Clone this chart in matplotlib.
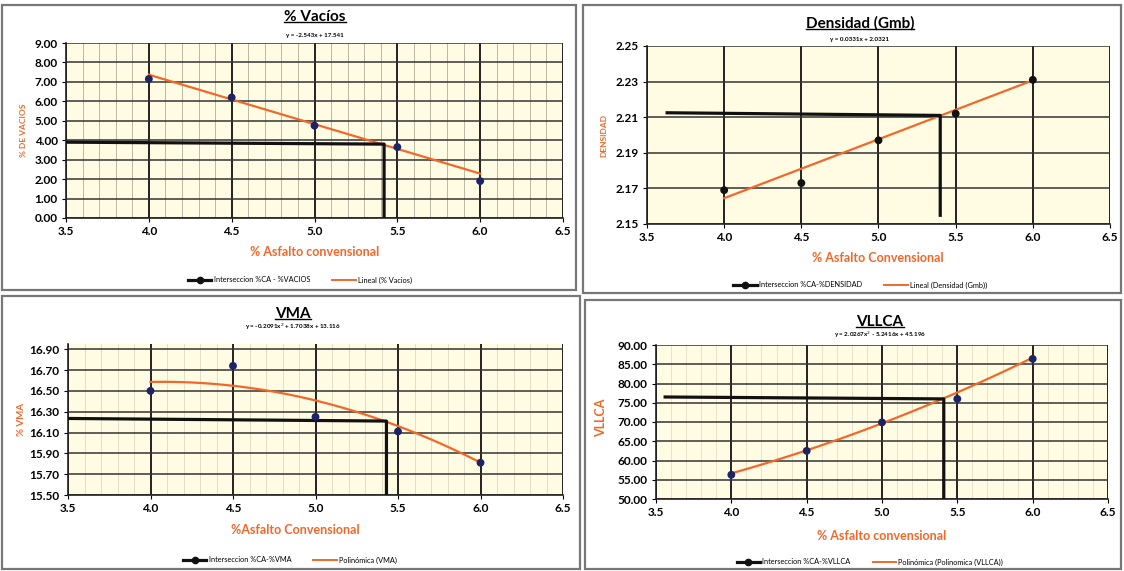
import matplotlib
matplotlib.use("Agg")
import matplotlib.pyplot as plt
import numpy as np
from matplotlib.lines import Line2D
from matplotlib.patches import Rectangle
from matplotlib.ticker import MultipleLocator, FormatStrFormatter

plt.rcParams['font.family'] = ['Lato', 'DejaVu Sans']

# datos
asfalto = [4.0, 4.5, 5.0, 5.5, 6.0]
vacios = [7.15, 6.20, 4.75, 3.65, 1.90]
densidad = [2.169, 2.173, 2.197, 2.212, 2.231]
vma = [16.50, 16.74, 16.25, 16.11, 15.81]
vllca = [56.3, 62.5, 69.9, 76.0, 86.4]

# coeficientes de las lineas de tendencia (ecuaciones del grafico)
coef_vacios = [-2.543, 17.541]
coef_densidad = [0.0331, 2.0321]
coef_vma = [-0.2091, 1.7038, 13.116]
coef_vllca = [2.0267, -5.2416, 45.196]

# lineas de interseccion
int_vacios_x = [3.5, 5.42, 5.42]
int_vacios_y = [3.90, 3.80, 0.0]
int_dens_x = [3.62, 5.40, 5.40]
int_dens_y = [2.2125, 2.211, 2.154]
int_vma_x = [3.5, 5.43, 5.43]
int_vma_y = [16.235, 16.21, 15.5]
int_vllca_x = [3.55, 5.41, 5.41]
int_vllca_y = [76.5, 76.0, 50.0]

# marcas del eje y
yt_vacios = [0, 1, 2, 3, 4, 5, 6, 7, 8, 9]
yt_dens = [2.15, 2.17, 2.19, 2.21, 2.23, 2.25]
yt_vma = [15.50, 15.70, 15.90, 16.10, 16.30, 16.50, 16.70, 16.90]
yt_vllca = [50, 55, 60, 65, 70, 75, 80, 85, 90]

W, H = 1124, 571
fig = plt.figure(figsize=(W / 100, H / 100), dpi=100)
ORANGE = '#F0682A'
NAVY = '#1B2466'
BG = '#FFFCE3'


def fx(x):
    return x / W


def fy(y):
    return 1 - y / H


# marcos de cada grafico
for x0, y0, x1, y1 in [(2, 5, 576, 290), (583, 5, 1121, 293), (2, 296, 580, 569), (585, 300, 1121, 569)]:
    fig.patches.append(Rectangle((fx(x0), fy(y1)), fx(x1 - x0), (y1 - y0) / H, transform=fig.transFigure,
                                 fill=False, edgecolor='#777777', lw=1.6))

titles = []


def panel(px, ylim, yticks, ydata, coef, ix, iy, pcolor, title, eq, ylabel, ylsize, xlabel,
          tpos, epos, xlpos, ylpos, legpos, lab1, lab2, minor_x, minor_alpha):
    x0, y0, x1, y1 = px
    ax = fig.add_axes([fx(x0), fy(y1), fx(x1 - x0), (y1 - y0) / H])
    ax.set_facecolor(BG)
    ax.set_xlim(3.5, 6.5)
    ax.set_ylim(*ylim)
    ax.xaxis.set_major_locator(MultipleLocator(0.5))
    ax.set_yticks(yticks)
    ax.xaxis.set_major_formatter(FormatStrFormatter('%.1f'))
    ax.yaxis.set_major_formatter(FormatStrFormatter('%.2f'))
    if minor_x:
        ax.xaxis.set_minor_locator(MultipleLocator(0.1))
        ax.grid(True, which='minor', axis='x', color='#9a9a8a', lw=0.6, alpha=minor_alpha)
    ax.grid(True, which='major', axis='x', color='#111111', lw=1.3)
    ax.grid(True, which='major', axis='y', color='#333333', lw=1.1)
    ax.set_axisbelow(True)
    ax.tick_params(which='minor', length=0)
    ax.tick_params(which='major', length=3, labelsize=8.5, pad=3)
    for lbl in ax.get_xticklabels() + ax.get_yticklabels():
        lbl.set_fontweight('bold')
    for s in ['top', 'right']:
        ax.spines[s].set_visible(False)
    for s in ['left', 'bottom']:
        ax.spines[s].set_color('#222222')
        ax.spines[s].set_linewidth(1.2)

    xt = np.linspace(4.0, 6.0, 60)
    ax.plot(xt, np.polyval(coef, xt), color=ORANGE, lw=1.6, zorder=3)
    ax.plot(ix, iy, color='#111111', lw=2.3, zorder=4, solid_capstyle='butt')
    ax.scatter(asfalto, ydata, s=32, color=pcolor, zorder=5, edgecolor='none')

    t = fig.text(fx(tpos[0]), fy(tpos[1]), title, ha='center', va='center', fontsize=11, fontweight='bold')
    titles.append(t)
    fig.text(fx(epos[0]), fy(epos[1]), eq, ha='center', va='center', fontsize=4.5, fontweight='bold')
    fig.text(fx(xlpos[0]), fy(xlpos[1]), xlabel, ha='center', va='center', fontsize=9,
             fontweight='bold', color=ORANGE)
    fig.text(fx(ylpos[0]), fy(ylpos[1]), ylabel, ha='center', va='center', fontsize=ylsize,
             fontweight='bold', color=ORANGE, rotation=90)

    handles = [Line2D([], [], color='#111111', lw=2.3, marker='o', markersize=4.5),
               Line2D([], [], color=ORANGE, lw=1.4)]
    fig.legend(handles, [lab1, lab2], loc='center', bbox_to_anchor=(fx(legpos[0]), fy(legpos[1])),
               ncol=2, frameon=False, fontsize=5.3, handlelength=3.2, columnspacing=3.0, handletextpad=0.3)
    return ax


panel((66, 43, 563, 218), (0, 9), yt_vacios, vacios, coef_vacios, int_vacios_x, int_vacios_y, NAVY,
      '% Vacíos', 'y = -2.543x + 17.541', '% DE VACIOS', 6, '% Asfalto convensional',
      (315, 17), (315, 36), (315, 252), (24, 130), (300, 280),
      'Interseccion %CA - %VACIOS', 'Lineal (% Vacios)', True, 0.8)

panel((647, 46, 1110, 224), (2.15, 2.25), yt_dens, densidad, coef_densidad, int_dens_x, int_dens_y, '#111111',
      'Densidad (Gmb)', 'y = 0.0331x + 2.0321', 'DENSIDAD', 6, '% Asfalto Convensional',
      (860, 23), (860, 39), (878, 258), (604, 135), (860, 285),
      'Interseccion %CA-%DENSIDAD', 'Lineal (Densidad (Gmb))', False, 0.0)

panel((68, 344, 563, 495), (15.5, 16.95), yt_vma, vma, coef_vma, int_vma_x, int_vma_y, NAVY,
      'VMA', 'y = -0.2091x$^2$ + 1.7038x + 13.116', '% VMA', 7, '%Asfalto Convensional',
      (293, 314), (293, 327), (295, 530), (22, 420), (290, 560),
      'Interseccion %CA-%VMA', 'Polinómica (VMA)', True, 0.35)

panel((656, 345, 1108, 499), (50, 90), yt_vllca, vllca, coef_vllca, int_vllca_x, int_vllca_y, NAVY,
      'VLLCA', 'y = 2.0267x$^2$ - 5.2416x + 45.196', 'VLLCA', 9, '% Asfalto convensional',
      (880, 322), (880, 335), (882, 536), (601, 418), (870, 562),
      'Interseccion %CA-%VLLCA', 'Polinómica (Polinomica (VLLCA))', True, 0.3)

# subrayado de los titulos
fig.canvas.draw()
inv = fig.transFigure.inverted()
for t in titles:
    bb = t.get_window_extent()
    (a, b), (c, d) = inv.transform([[bb.x0, bb.y0], [bb.x1, bb.y1]])
    fig.lines.append(Line2D([a, c], [b + 0.003, b + 0.003], transform=fig.transFigure, color='black', lw=1.0))

fig.savefig('out.png', dpi=100)
